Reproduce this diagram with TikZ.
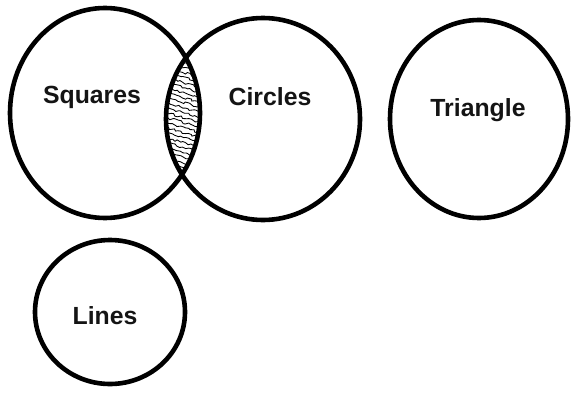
\documentclass[tikz,border=0pt]{standalone}
\usepackage{fontspec}
\setmainfont{Liberation Sans}
\usetikzlibrary{decorations.pathmorphing}
\tikzset{
  ring/.style={line width=4.6pt, draw=black},
  lbl/.style={font=\fontsize{24.8}{27}\selectfont\bfseries, text=black!92, inner sep=0pt},
  hatch/.style={line width=0.85pt, decorate, decoration={random steps, segment length=2.6pt, amplitude=1.2pt}}
}
\begin{document}
\begin{tikzpicture}[x=1pt,y=-1pt]
\useasboundingbox (0,0) rectangle (575,396);
\fill[white] (0,0) rectangle (575,396);
% hatched lens
\begin{scope}
  \clip (105,113) ellipse [x radius=95pt, y radius=105pt];
  \clip (263,119) ellipse [x radius=97pt, y radius=101pt];
  \pgfmathsetseed{7}
  \foreach \yy in {30,35,...,200} {
    \draw[hatch] (158,\yy) -- (212,\yy+16);
  }
\end{scope}
\draw[ring] (105,113) ellipse [x radius=95pt, y radius=105pt];
\draw[ring] (263,119) ellipse [x radius=97pt, y radius=101pt];
\draw[ring] (479,119) ellipse [x radius=89pt, y radius=99pt];
\draw[ring] (110,312) ellipse [x radius=75pt, y radius=72pt];
\node[lbl] (sq) at (92,97) {Squares};
\node[lbl] (ci) at (270,97) {Circles};
\node[lbl] (tr) at (478,110) {Triangle};
\node[lbl] (li) at (105,316) {Lines};
\end{tikzpicture}
\end{document}
